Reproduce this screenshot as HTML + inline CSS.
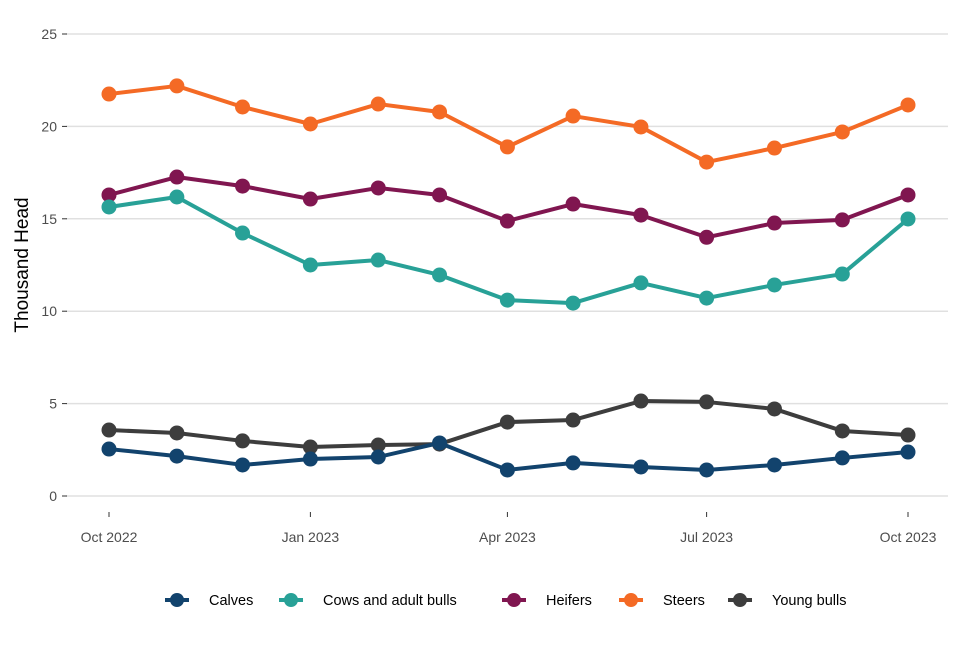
<!DOCTYPE html>
<html><head><meta charset="utf-8"><style>
body{margin:0;background:#fff;font-family:"Liberation Sans",Arial,sans-serif}
svg text{font-family:"Liberation Sans",Arial,sans-serif}
</style></head><body>
<svg id="chart" width="960" height="640"></svg>
<script>
const months = ["2022-10","2022-11","2022-12","2023-01","2023-02","2023-03","2023-04","2023-05","2023-06","2023-07","2023-08","2023-09","2023-10"];
const seriesNames = ["Calves","Cows and adult bulls","Heifers","Steers","Young bulls"];
const seriesColors = ["#12436d","#28a197","#801650","#f46a25","#3d3d3d"];
const calves = [2.54,2.16,1.68,2.0,2.11,2.87,1.41,1.79,1.57,1.41,1.68,2.06,2.38];
const cows = [15.64,16.18,14.23,12.5,12.77,11.96,10.6,10.44,11.53,10.71,11.42,12.01,14.99];
const heifers = [16.29,17.26,16.77,16.07,16.67,16.29,14.88,15.8,15.2,14.0,14.77,14.94,16.29];
const steers = [21.75,22.19,21.05,20.13,21.21,20.78,18.89,20.56,19.97,18.07,18.83,19.7,21.16];
const youngBulls = [3.57,3.41,2.98,2.65,2.76,2.81,4.0,4.11,5.14,5.09,4.71,3.52,3.3];
const yTicks = [0,5,10,15,20,25];
const xTickLabels = ["Oct 2022","Jan 2023","Apr 2023","Jul 2023","Oct 2023"];
const xTickDates = ["2022-10","2023-01","2023-04","2023-07","2023-10"];

const NS="http://www.w3.org/2000/svg";
const svg=document.getElementById("chart");
function mk(t,a,p){const e=document.createElementNS(NS,t);for(const k in a)e.setAttribute(k,a[k]);(p||svg).appendChild(e);return e;}
const t0=Date.UTC(2022,9,1),t1=Date.UTC(2023,9,1);
function dt(s){const [y,m]=s.split("-").map(Number);return Date.UTC(y,m-1,1);}
function x(s){return 109+(dt(s)-t0)/(t1-t0)*799;}
function y(v){return 496-v*18.48;}

yTicks.forEach(v=>{
  const g=mk("line",{x1:66,x2:948,y1:y(v),y2:y(v),stroke:"#e0e0e0","stroke-width":1.5});
  
  
  const tk=mk("line",{x1:62,x2:67,y1:y(v),y2:y(v),stroke:"#333","stroke-width":1});
  
  
  const t=mk("text",{x:57,y:y(v)+5,"text-anchor":"end","font-size":14,fill:"#4d4d4d"});
  t.textContent=v;
  
  
});
xTickLabels.forEach((l,i)=>{
  const xx=x(xTickDates[i]);
  const tk=mk("line",{x1:xx,x2:xx,y1:512,y2:517,stroke:"#333","stroke-width":1});
  
  
  const t=mk("text",{x:xx,y:542,"text-anchor":"middle","font-size":14,fill:"#4d4d4d"});
  t.textContent=l;
  
  
});
const yt=mk("text",{x:28,y:265,"text-anchor":"middle","font-size":19,fill:"#000",transform:"rotate(-90 28 265)"});
yt.textContent="Thousand Head";



const data=[calves,cows,heifers,steers,youngBulls];
[3,2,1,4,0].forEach(si=>{
  const vals=data[si],c=seriesColors[si];
  const g=mk("g",{});
  
  
  const pl=mk("polyline",{points:vals.map((v,i)=>x(months[i])+","+y(v)).join(" "),fill:"none",stroke:c,"stroke-width":4,"stroke-linejoin":"round"},g);
  
  
  vals.forEach((v,i)=>{
    const p=mk("circle",{cx:x(months[i]),cy:y(v),r:7.5,fill:c},g);
    
    
  });
});

const legX=[177,291,514,631,740];
seriesNames.forEach((n,i)=>{
  const g=mk("g",{});
  
  
  mk("line",{x1:legX[i]-12,x2:legX[i]+12,y1:600,y2:600,stroke:seriesColors[i],"stroke-width":4},g);
  mk("circle",{cx:legX[i],cy:600,r:7,fill:seriesColors[i]},g);
  const t=mk("text",{x:legX[i]+32,y:605,"font-size":14.5,fill:"#000"},g);
  t.textContent=n;
});
</script>
</body></html>
